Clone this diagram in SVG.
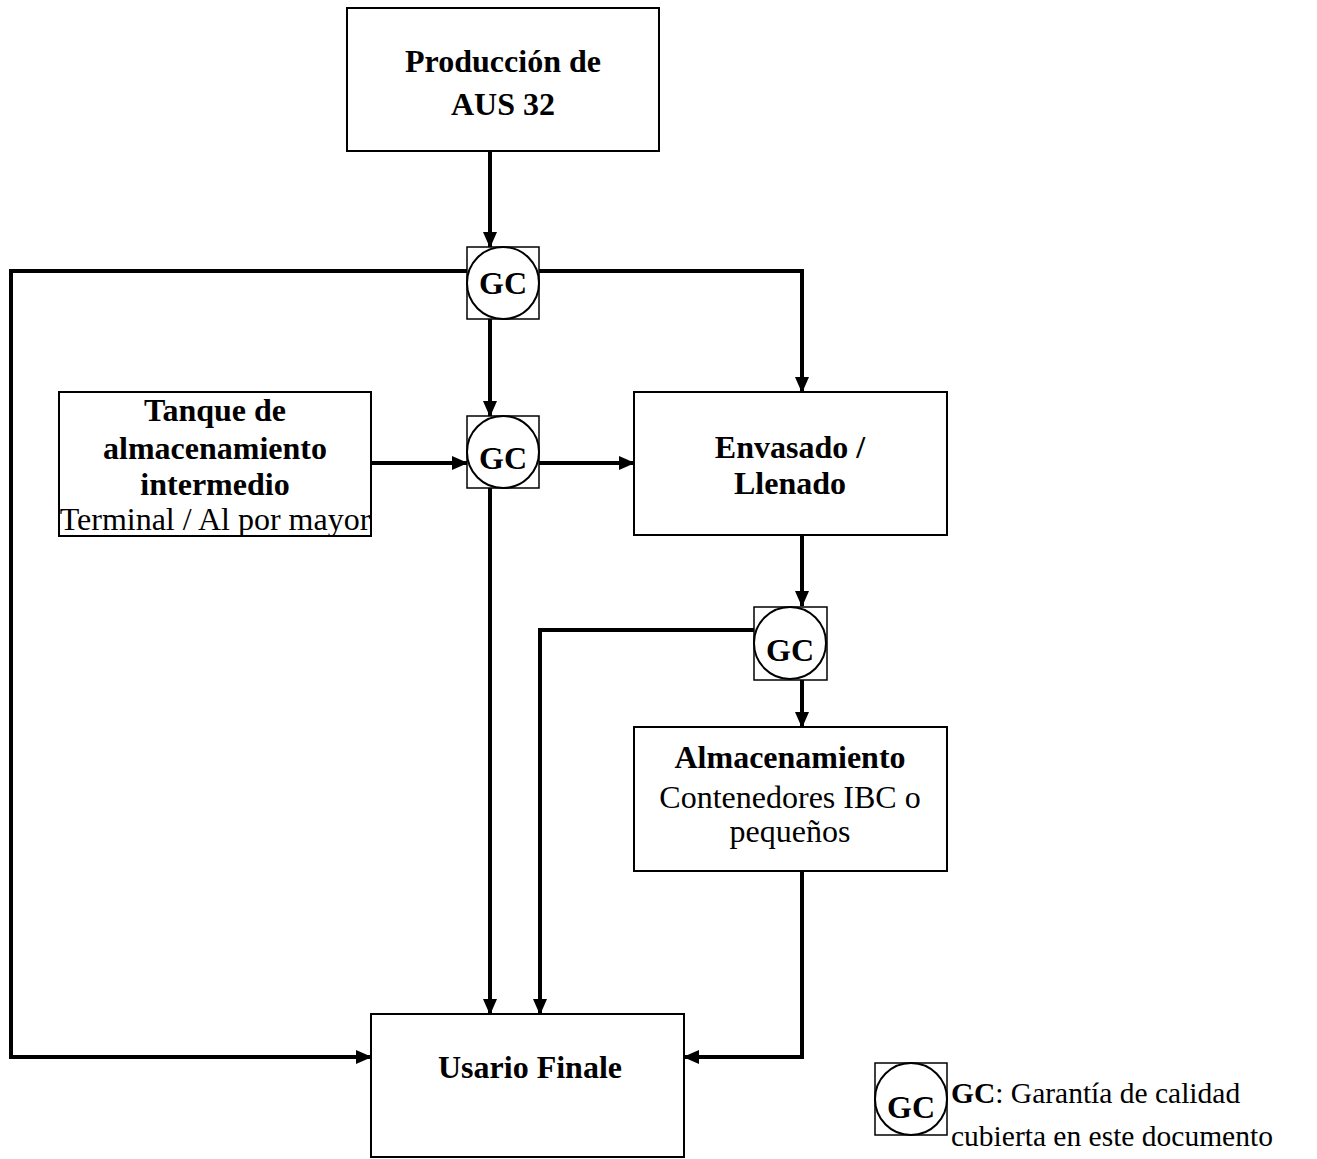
<svg xmlns="http://www.w3.org/2000/svg" width="1317" height="1159" viewBox="0 0 1317 1159">
<style>
.box{fill:#fff;stroke:#000;stroke-width:2}
.gcsq{fill:#fff;stroke:#000;stroke-width:1.5}
.gcc{fill:#fff;stroke:#000;stroke-width:2}
.b{font-family:"Liberation Serif",serif;font-weight:bold;font-size:32px;text-anchor:middle;fill:#000}
.r{font-family:"Liberation Serif",serif;font-size:32px;text-anchor:middle;fill:#000}
.lg{font-family:"Liberation Serif",serif;font-size:29.5px;fill:#000}
.ln{fill:none;stroke:#000;stroke-width:4}
</style>
<defs>
<marker id="ah" markerWidth="16" markerHeight="14" refX="15" refY="7" orient="auto" markerUnits="userSpaceOnUse">
<path d="M0,0 L16,7 L0,14 Z" fill="#000"/>
</marker>
</defs>
<rect width="1317" height="1159" fill="#fff"/>
<g id="connectors">
<path class="ln" d="M490,151 V247" marker-end="url(#ah)"/>
<path class="ln" d="M467,271 H11 V1057 H371" marker-end="url(#ah)"/>
<path class="ln" d="M539,271 H802 V392" marker-end="url(#ah)"/>
<path class="ln" d="M490,319 V416" marker-end="url(#ah)"/>
<path class="ln" d="M371,463 H467" marker-end="url(#ah)"/>
<path class="ln" d="M539,463 H634" marker-end="url(#ah)"/>
<path class="ln" d="M490,488 V1014" marker-end="url(#ah)"/>
<path class="ln" d="M802,535 V606" marker-end="url(#ah)"/>
<path class="ln" d="M754,630 H540 V1014" marker-end="url(#ah)"/>
<path class="ln" d="M802,680 V727" marker-end="url(#ah)"/>
<path class="ln" d="M802,871 V1057 H684" marker-end="url(#ah)"/>
</g>
<g id="produccion">
<rect class="box" x="347" y="8" width="312" height="143"/>
<text class="b" x="503" y="72">Producción de</text>
<text class="b" x="503" y="115">AUS 32</text>
</g>
<g id="gc1">
<rect class="gcsq" x="467" y="247" width="72" height="72"/>
<circle class="gcc" cx="503" cy="283" r="36"/>
<text class="b" x="503" y="294">GC</text>
</g>
<g id="gc2">
<rect class="gcsq" x="467" y="416" width="72" height="72"/>
<circle class="gcc" cx="503" cy="452" r="36"/>
<text class="b" x="503" y="469">GC</text>
</g>
<g id="tanque">
<rect class="box" x="59" y="392" width="312" height="144"/>
<text class="b" x="215" y="421">Tanque de</text>
<text class="b" x="215" y="459">almacenamiento</text>
<text class="b" x="215" y="495">intermedio</text>
<text class="r" x="215" y="530">Terminal / Al por mayor</text>
</g>
<g id="envasado">
<rect class="box" x="634" y="392" width="313" height="143"/>
<text class="b" x="790" y="458">Envasado /</text>
<text class="b" x="790" y="494">Llenado</text>
</g>
<g id="gc3">
<rect class="gcsq" x="754" y="607" width="73" height="73"/>
<circle class="gcc" cx="790" cy="643" r="36"/>
<text class="b" x="790" y="661">GC</text>
</g>
<g id="almacenamiento">
<rect class="box" x="634" y="727" width="313" height="144"/>
<text class="b" x="790" y="768">Almacenamiento</text>
<text class="r" x="790" y="808">Contenedores IBC o</text>
<text class="r" x="790" y="842">pequeños</text>
</g>
<g id="usuario">
<rect class="box" x="371" y="1014" width="313" height="143"/>
<text class="b" x="530" y="1078">Usario Finale</text>
</g>
<g id="legend">
<rect class="gcsq" x="875" y="1063" width="72" height="72"/>
<circle class="gcc" cx="911" cy="1099" r="36"/>
<text class="b" x="911" y="1118">GC</text>
<text class="lg" x="951" y="1103"><tspan font-weight="bold">GC</tspan>: Garantía de calidad</text>
<text class="lg" x="951" y="1146">cubierta en este documento</text>
</g>
</svg>
